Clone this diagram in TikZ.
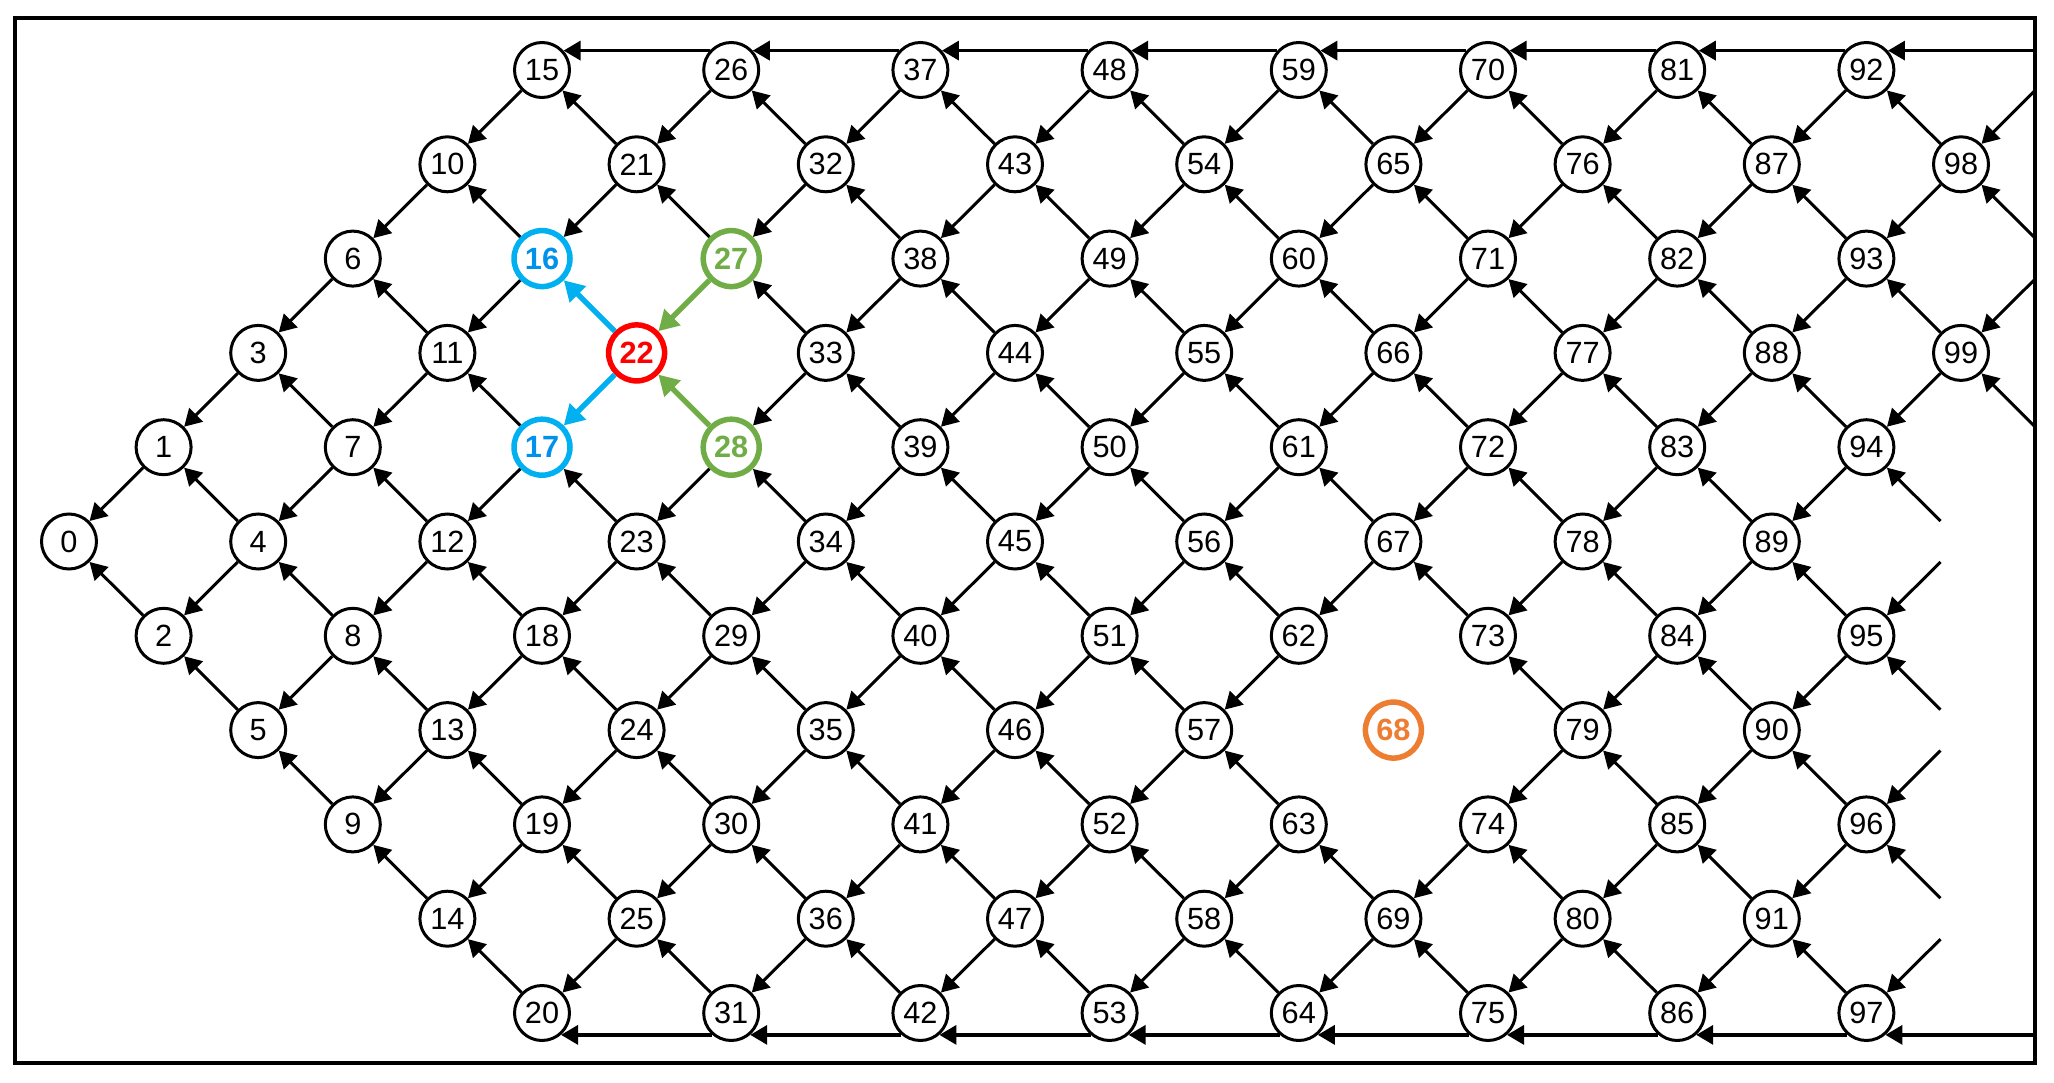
\documentclass[tikz,border=0pt]{standalone}
\usepackage{fontspec}
\setmainfont{Liberation Sans}
\usetikzlibrary{arrows.meta}
\definecolor{bluec}{RGB}{0,176,240}
\definecolor{bluet}{RGB}{0,145,235}
\definecolor{redc}{RGB}{255,0,0}
\definecolor{greenc}{RGB}{112,173,71}
\definecolor{orangec}{RGB}{237,125,49}
\tikzset{
  nd/.style={circle, draw=black, line width=3pt, minimum size=55pt, inner sep=0pt,
    font=\fontsize{30.7pt}{36pt}\selectfont},
  hot/.style={line width=5.5pt, minimum size=56pt, font=\fontsize{30.7pt}{36pt}\selectfont\bfseries},
  s16/.style={hot, draw=bluec, text=bluet},
  s17/.style={hot, draw=bluec, text=bluet},
  s22/.style={hot, draw=redc, text=redc},
  s27/.style={hot, draw=greenc, text=greenc},
  s28/.style={hot, draw=greenc, text=greenc},
  s68/.style={hot, draw=orangec, text=orangec},
  ghost/.style={nd, draw=none},
  edge/.style={line width=3pt, -{Triangle[length=17pt,width=19pt]}},
  hline/.style={line width=3.5pt, -{Triangle[length=17pt,width=19pt]}},
  bedge/.style={line width=5.3pt, draw=bluec, -{Triangle[length=20pt,width=22pt]}},
  gedge/.style={line width=5.3pt, draw=greenc, -{Triangle[length=20pt,width=22pt]}},
  frame/.style={line width=4pt}
}
\begin{document}
\begin{tikzpicture}[x=1pt,y=-1pt]
\useasboundingbox (0,0) rectangle (2054,1083);
\draw[frame] (15.3,18) rectangle (2035,1063);
\coordinate (fr) at (2035,50);
% nodes
\foreach \xc in {0,...,20}{
  \ifnum\xc<6
    \pgfmathtruncatemacro\xlo{5-\xc}
    \pgfmathtruncatemacro\xcnt{\xc}
    \pgfmathtruncatemacro\xst{\xc*(\xc+1)/2}
  \else
    \pgfmathtruncatemacro\xlo{1-mod(\xc,2)}
    \ifnum\xc=20 \def\xcnt{1}\else \pgfmathtruncatemacro\xcnt{5-\xlo}\fi
    \pgfmathtruncatemacro\xst{mod(\xc,2)==1 ? 15+11*(\xc-5)/2 : 21+11*(\xc-6)/2}
  \fi
  \foreach \xk in {0,...,\xcnt}{
    \pgfmathtruncatemacro\xr{\xlo+2*\xk}
    \pgfmathtruncatemacro\xn{\xst+\xk}
    \node[nd, s\xn/.try, alias=g\xc r\xr] (n\xn) at ({69+94.6*\xc},{70+94.3*\xr}) {\xn};
  }
}
% phantom neighbours beyond the drawn lattice
\foreach \xc/\xr in {21/0,21/2,21/4,20/5,20/7,20/9}
  \node[ghost] (g\xc r\xr) at ({69+94.6*\xc},{70+94.3*\xr}) {};
% diagonal edges (always from right to left)
\foreach \xc in {0,...,20}{
  \ifnum\xc<6
    \pgfmathtruncatemacro\xlo{5-\xc}
    \pgfmathtruncatemacro\xcnt{\xc}
    \pgfmathtruncatemacro\xst{\xc*(\xc+1)/2}
  \else
    \pgfmathtruncatemacro\xlo{1-mod(\xc,2)}
    \ifnum\xc=20 \def\xcnt{1}\else \pgfmathtruncatemacro\xcnt{5-\xlo}\fi
    \pgfmathtruncatemacro\xst{mod(\xc,2)==1 ? 15+11*(\xc-5)/2 : 21+11*(\xc-6)/2}
  \fi
  \foreach \xk in {0,...,\xcnt}{
    \pgfmathtruncatemacro\xr{\xlo+2*\xk}
    \pgfmathtruncatemacro\xn{\xst+\xk}
    \foreach \dd in {-1,1}{
      \pgfmathtruncatemacro\yc{\xc+1}
      \pgfmathtruncatemacro\yr{\xr+\dd}
      \pgfmathtruncatemacro\skipit{or(or(and(\xc==6,\xr==3),and(\xc==14,\xr==7)),or(and(\yc==6,\yr==3),and(\yc==14,\yr==7)))}
      \ifnum\skipit=0
        \ifcsname pgf@sh@ns@g\yc r\yr\endcsname
          \draw[edge] (g\yc r\yr) -- (n\xn);
        \fi
      \fi
    }
  }
}
% highlighted edges
\draw[bedge] (n22) -- (n16);
\draw[bedge] (n22) -- (n17);
\draw[gedge] (n27) -- (n22);
\draw[gedge] (n28) -- (n22);
% top and bottom wrap lines
\draw[hline] (n92.42 -| fr) -- (n92.42);
\foreach \a/\b in {92/81,81/70,70/59,59/48,48/37,37/26,26/15}
  \draw[hline] (n\a.138) -- (n\b.42);
\draw[hline] (n97.311 -| fr) -- (n97.311);
\foreach \a/\b in {97/86,86/75,75/64,64/53,53/42,42/31,31/20}
  \draw[hline] (n\a.229) -- (n\b.311);
\end{tikzpicture}
\end{document}
